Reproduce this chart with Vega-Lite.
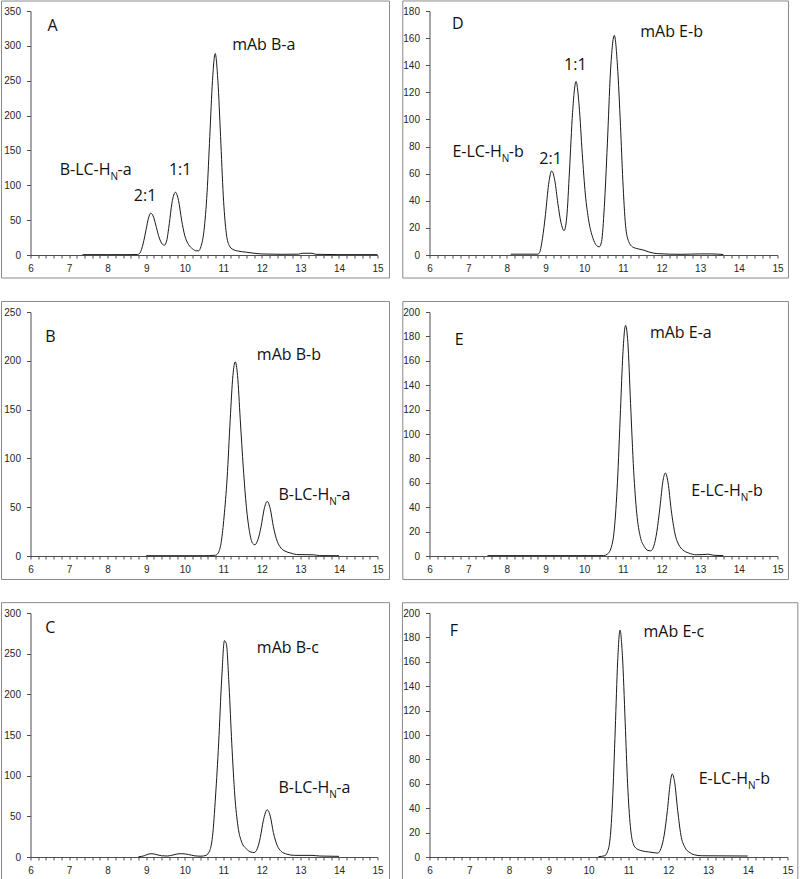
{
"$schema": "https://vega.github.io/schema/vega-lite/v6.json",
"padding": {"left": 0.5, "top": 0, "right": 0, "bottom": 0},
"columns": 2,
"align": "each",
"spacing": {"row": 21, "column": 11},
"config": {
  "view": {"stroke": null},
  "axis": {"grid": false, "domainColor": "#4d4d4d", "tickColor": "#4d4d4d", "labelColor": "#262626", "labelFont": "Liberation Sans", "labelFontSize": 10, "title": null, "labelOverlap": false},
  "axisX": {"tickSize": 3, "labelPadding": 5, "labelFlush": false, "labelOverlap": false},
  "axisY": {"tickSize": 4, "labelPadding": 6, "labelOverlap": false},
  "text": {"font": "Open Sans", "fontSize": 16, "fill": "#111111", "align": "left", "baseline": "alphabetic"}
},
"datasets": {
  "curves": [
    {"p":"A","t":7.35,"v":0.5},{"p":"A","t":8.0,"v":0.5},{"p":"A","t":8.5,"v":0.5},{"p":"A","t":8.78,"v":0.7},{"p":"A","t":8.84,"v":3},{"p":"A","t":8.92,"v":16},{"p":"A","t":9.0,"v":37},{"p":"A","t":9.06,"v":53},{"p":"A","t":9.12,"v":60},{"p":"A","t":9.18,"v":56},{"p":"A","t":9.25,"v":43},{"p":"A","t":9.32,"v":28},{"p":"A","t":9.4,"v":17},{"p":"A","t":9.47,"v":14},{"p":"A","t":9.53,"v":20},{"p":"A","t":9.6,"v":45},{"p":"A","t":9.67,"v":75},{"p":"A","t":9.76,"v":90},{"p":"A","t":9.84,"v":78},{"p":"A","t":9.92,"v":50},{"p":"A","t":10.0,"v":28},{"p":"A","t":10.1,"v":15},{"p":"A","t":10.2,"v":9},{"p":"A","t":10.3,"v":6},{"p":"A","t":10.36,"v":6},{"p":"A","t":10.42,"v":12},{"p":"A","t":10.5,"v":35},{"p":"A","t":10.58,"v":90},{"p":"A","t":10.65,"v":170},{"p":"A","t":10.72,"v":250},{"p":"A","t":10.79,"v":289},{"p":"A","t":10.86,"v":250},{"p":"A","t":10.93,"v":170},{"p":"A","t":11.0,"v":85},{"p":"A","t":11.07,"v":35},{"p":"A","t":11.15,"v":14},{"p":"A","t":11.25,"v":8},{"p":"A","t":11.4,"v":5.5},{"p":"A","t":11.6,"v":4},{"p":"A","t":11.8,"v":2.5},{"p":"A","t":12.0,"v":1.5},{"p":"A","t":12.5,"v":1},{"p":"A","t":12.95,"v":1.2},{"p":"A","t":13.05,"v":2.5},{"p":"A","t":13.3,"v":2.5},{"p":"A","t":13.4,"v":1},{"p":"A","t":14.0,"v":0.5},{"p":"A","t":15.0,"v":0.5},
    {"p":"D","t":8.1,"v":0.6},{"p":"D","t":8.8,"v":0.6},{"p":"D","t":8.85,"v":2},{"p":"D","t":8.92,"v":12},{"p":"D","t":9.0,"v":30},{"p":"D","t":9.08,"v":52},{"p":"D","t":9.16,"v":62},{"p":"D","t":9.24,"v":55},{"p":"D","t":9.32,"v":38},{"p":"D","t":9.4,"v":24},{"p":"D","t":9.48,"v":18},{"p":"D","t":9.55,"v":28},{"p":"D","t":9.62,"v":62},{"p":"D","t":9.7,"v":105},{"p":"D","t":9.79,"v":128},{"p":"D","t":9.87,"v":110},{"p":"D","t":9.95,"v":75},{"p":"D","t":10.03,"v":45},{"p":"D","t":10.12,"v":25},{"p":"D","t":10.22,"v":13},{"p":"D","t":10.32,"v":7},{"p":"D","t":10.39,"v":6},{"p":"D","t":10.45,"v":10},{"p":"D","t":10.52,"v":35},{"p":"D","t":10.6,"v":82},{"p":"D","t":10.68,"v":135},{"p":"D","t":10.78,"v":162},{"p":"D","t":10.86,"v":140},{"p":"D","t":10.94,"v":95},{"p":"D","t":11.0,"v":55},{"p":"D","t":11.07,"v":22},{"p":"D","t":11.15,"v":10},{"p":"D","t":11.25,"v":6},{"p":"D","t":11.4,"v":4.5},{"p":"D","t":11.55,"v":3.5},{"p":"D","t":11.7,"v":2},{"p":"D","t":11.9,"v":1},{"p":"D","t":12.5,"v":0.5},{"p":"D","t":13.0,"v":0.8},{"p":"D","t":13.3,"v":0.8},{"p":"D","t":13.6,"v":0.3},
    {"p":"B","t":9.0,"v":0.3},{"p":"B","t":10.5,"v":0.3},{"p":"B","t":10.8,"v":0.8},{"p":"B","t":10.88,"v":4},{"p":"B","t":10.95,"v":15},{"p":"B","t":11.02,"v":40},{"p":"B","t":11.1,"v":80},{"p":"B","t":11.18,"v":140},{"p":"B","t":11.25,"v":185},{"p":"B","t":11.31,"v":199},{"p":"B","t":11.37,"v":185},{"p":"B","t":11.44,"v":140},{"p":"B","t":11.52,"v":90},{"p":"B","t":11.6,"v":50},{"p":"B","t":11.68,"v":25},{"p":"B","t":11.76,"v":13},{"p":"B","t":11.82,"v":11.5},{"p":"B","t":11.9,"v":17},{"p":"B","t":11.98,"v":30},{"p":"B","t":12.06,"v":48},{"p":"B","t":12.14,"v":56},{"p":"B","t":12.22,"v":48},{"p":"B","t":12.3,"v":30},{"p":"B","t":12.4,"v":15},{"p":"B","t":12.5,"v":8},{"p":"B","t":12.6,"v":5},{"p":"B","t":12.75,"v":3},{"p":"B","t":12.9,"v":1.5},{"p":"B","t":13.35,"v":1.2},{"p":"B","t":13.5,"v":0.4},{"p":"B","t":14.0,"v":0.3},
    {"p":"E","t":7.5,"v":0.3},{"p":"E","t":10.5,"v":0.3},{"p":"E","t":10.6,"v":1.5},{"p":"E","t":10.7,"v":7},{"p":"E","t":10.78,"v":22},{"p":"E","t":10.86,"v":60},{"p":"E","t":10.94,"v":120},{"p":"E","t":11.0,"v":165},{"p":"E","t":11.07,"v":189},{"p":"E","t":11.13,"v":175},{"p":"E","t":11.2,"v":125},{"p":"E","t":11.28,"v":70},{"p":"E","t":11.36,"v":35},{"p":"E","t":11.45,"v":16},{"p":"E","t":11.55,"v":8},{"p":"E","t":11.65,"v":4.5},{"p":"E","t":11.72,"v":4.2},{"p":"E","t":11.8,"v":8},{"p":"E","t":11.88,"v":20},{"p":"E","t":11.96,"v":40},{"p":"E","t":12.04,"v":62},{"p":"E","t":12.1,"v":68},{"p":"E","t":12.17,"v":60},{"p":"E","t":12.25,"v":38},{"p":"E","t":12.35,"v":18},{"p":"E","t":12.45,"v":9},{"p":"E","t":12.55,"v":5},{"p":"E","t":12.7,"v":2.5},{"p":"E","t":12.9,"v":1},{"p":"E","t":13.1,"v":1.2},{"p":"E","t":13.2,"v":1.5},{"p":"E","t":13.35,"v":0.6},{"p":"E","t":13.6,"v":0.3},
    {"p":"C","t":8.8,"v":0.3},{"p":"C","t":8.95,"v":1.5},{"p":"C","t":9.05,"v":3.5},{"p":"C","t":9.15,"v":4},{"p":"C","t":9.25,"v":3.2},{"p":"C","t":9.4,"v":1.5},{"p":"C","t":9.55,"v":1.2},{"p":"C","t":9.7,"v":2.5},{"p":"C","t":9.85,"v":4},{"p":"C","t":9.95,"v":4},{"p":"C","t":10.1,"v":3},{"p":"C","t":10.25,"v":1.5},{"p":"C","t":10.42,"v":1},{"p":"C","t":10.55,"v":2},{"p":"C","t":10.65,"v":8},{"p":"C","t":10.72,"v":25},{"p":"C","t":10.8,"v":75},{"p":"C","t":10.88,"v":140},{"p":"C","t":10.96,"v":220},{"p":"C","t":11.03,"v":266},{"p":"C","t":11.08,"v":262},{"p":"C","t":11.15,"v":210},{"p":"C","t":11.22,"v":140},{"p":"C","t":11.3,"v":75},{"p":"C","t":11.38,"v":38},{"p":"C","t":11.48,"v":18},{"p":"C","t":11.6,"v":10},{"p":"C","t":11.72,"v":6},{"p":"C","t":11.8,"v":5.5},{"p":"C","t":11.88,"v":10},{"p":"C","t":11.96,"v":24},{"p":"C","t":12.04,"v":45},{"p":"C","t":12.14,"v":58},{"p":"C","t":12.22,"v":50},{"p":"C","t":12.3,"v":30},{"p":"C","t":12.4,"v":14},{"p":"C","t":12.5,"v":7},{"p":"C","t":12.65,"v":3.5},{"p":"C","t":12.85,"v":2},{"p":"C","t":13.3,"v":2},{"p":"C","t":13.5,"v":1.2},{"p":"C","t":14.0,"v":0.8},
    {"p":"F","t":10.25,"v":0.3},{"p":"F","t":10.4,"v":1},{"p":"F","t":10.47,"v":4},{"p":"F","t":10.54,"v":15},{"p":"F","t":10.6,"v":45},{"p":"F","t":10.67,"v":105},{"p":"F","t":10.73,"v":160},{"p":"F","t":10.79,"v":186},{"p":"F","t":10.85,"v":165},{"p":"F","t":10.92,"v":110},{"p":"F","t":10.98,"v":60},{"p":"F","t":11.05,"v":25},{"p":"F","t":11.12,"v":11},{"p":"F","t":11.2,"v":7},{"p":"F","t":11.35,"v":5},{"p":"F","t":11.5,"v":4.2},{"p":"F","t":11.65,"v":3.5},{"p":"F","t":11.74,"v":3.2},{"p":"F","t":11.82,"v":7},{"p":"F","t":11.9,"v":18},{"p":"F","t":11.98,"v":38},{"p":"F","t":12.05,"v":60},{"p":"F","t":12.1,"v":68},{"p":"F","t":12.16,"v":62},{"p":"F","t":12.24,"v":38},{"p":"F","t":12.32,"v":18},{"p":"F","t":12.42,"v":8},{"p":"F","t":12.55,"v":3.5},{"p":"F","t":12.7,"v":1.5},{"p":"F","t":12.85,"v":1},{"p":"F","t":14.0,"v":0.8}
  ],
  "labels": [
    {"p":"A","x":6.44,"y":321,"text":"A"},{"p":"A","x":11.23,"y":294,"text":"mAb B-a"},{"p":"A","x":8.68,"y":77.5,"text":"2:1"},{"p":"A","x":9.59,"y":114.8,"text":"1:1"},
    {"p":"D","x":6.58,"y":166.5,"text":"D"},{"p":"D","x":11.45,"y":160.8,"text":"mAb E-b"},{"p":"D","x":8.84,"y":66.9,"text":"2:1"},{"p":"D","x":9.48,"y":136.2,"text":"1:1"},
    {"p":"B","x":6.38,"y":219,"text":"B"},{"p":"B","x":11.87,"y":201,"text":"mAb B-b"},
    {"p":"E","x":6.65,"y":173.2,"text":"E"},{"p":"E","x":11.7,"y":178.7,"text":"mAb E-a"},
    {"p":"C","x":6.38,"y":275.8,"text":"C"},{"p":"C","x":11.87,"y":251,"text":"mAb B-c"},
    {"p":"F","x":6.51,"y":181.5,"text":"F"},{"p":"F","x":11.38,"y":180,"text":"mAb E-c"}
  ],
  "sublabels": [
    {"p":"A","x":8.075,"y":114.8,"pre":"B-LC-H","sub":"N","post":"-a"},
    {"p":"D","x":7.87,"y":72.3,"pre":"E-LC-H","sub":"N","post":"-b"},
    {"p":"B","x":13.75,"y":57.5,"pre":"B-LC-H","sub":"N","post":"-a"},
    {"p":"E","x":14.05,"y":49.5,"pre":"E-LC-H","sub":"N","post":"-b"},
    {"p":"C","x":13.75,"y":79,"pre":"B-LC-H","sub":"N","post":"-a"},
    {"p":"F","x":14.01,"y":60,"pre":"E-LC-H","sub":"N","post":"-b"}
  ]
},
"concat": [
  {"width": 347, "height": 244, "layer": [
    {"data": {"values": [{}]}, "mark": {"type": "rect", "fill": null, "stroke": "#8a8a8a", "strokeWidth": 1},
     "encoding": {"x": {"datum": 5.248, "type": "quantitative", "scale": {"domain": [6, 15], "nice": false}}, "x2": {"datum": 15.311}, "y": {"datum": 364.3, "type": "quantitative", "scale": {"domain": [0, 350], "nice": false}}, "y2": {"datum": -33}}},
    {"data": {"name": "curves"}, "transform": [{"filter": "datum.p === 'A'"}], "mark": {"type": "line", "interpolate": "monotone", "stroke": "#1a1a1a", "strokeWidth": 1},
     "encoding": {"x": {"field": "t", "type": "quantitative", "scale": {"domain": [6, 15], "nice": false}, "axis": {"title": null, "tickCount": 100, "labelOverlap": false, "labelFlush": false, "values": [6,6.2,6.4,6.6,6.8,7,7.2,7.4,7.6,7.8,8,8.2,8.4,8.6,8.8,9,9.2,9.4,9.6,9.8,10,10.2,10.4,10.6,10.8,11,11.2,11.4,11.6,11.8,12,12.2,12.4,12.6,12.8,13,13.2,13.4,13.6,13.8,14,14.2,14.4,14.6,14.8,15], "labelExpr": "datum.value % 1 == 0 ? format(datum.value, 'd') : ''"}},
                  "y": {"field": "v", "type": "quantitative", "scale": {"domain": [0, 350], "nice": false}, "axis": {"title": null, "tickCount": 100, "labelOverlap": false, "values": [0,50,100,150,200,250,300,350]}}}},
    {"data": {"name": "labels"}, "transform": [{"filter": "datum.p === 'A'"}], "mark": {"type": "text", "fill": "#111111"}, "encoding": {"x": {"field": "x", "type": "quantitative"}, "y": {"field": "y", "type": "quantitative"}, "text": {"field": "text"}}},
    {"data": {"name": "sublabels"}, "transform": [{"filter": "datum.p === 'A'"}], "mark": {"type": "text", "align": "right", "fill": "#111111"}, "encoding": {"x": {"field": "x", "type": "quantitative"}, "y": {"field": "y", "type": "quantitative"}, "text": {"field": "pre"}}},
    {"data": {"name": "sublabels"}, "transform": [{"filter": "datum.p === 'A'"}], "mark": {"type": "text", "fontSize": 10, "dy": 5, "fill": "#111111"}, "encoding": {"x": {"field": "x", "type": "quantitative"}, "y": {"field": "y", "type": "quantitative"}, "text": {"field": "sub"}}},
    {"data": {"name": "sublabels"}, "transform": [{"filter": "datum.p === 'A'"}], "mark": {"type": "text", "dx": 7, "fill": "#111111"}, "encoding": {"x": {"field": "x", "type": "quantitative"}, "y": {"field": "y", "type": "quantitative"}, "text": {"field": "post"}}}
  ]},
  {"width": 348, "height": 244, "layer": [
    {"data": {"values": [{}]}, "mark": {"type": "rect", "fill": null, "stroke": "#8a8a8a", "strokeWidth": 1},
     "encoding": {"x": {"datum": 5.31, "type": "quantitative", "scale": {"domain": [6, 15], "nice": false}}, "x2": {"datum": 15.284}, "y": {"datum": 187.4, "type": "quantitative", "scale": {"domain": [0, 180], "nice": false}}, "y2": {"datum": -17}}},
    {"data": {"name": "curves"}, "transform": [{"filter": "datum.p === 'D'"}], "mark": {"type": "line", "interpolate": "monotone", "stroke": "#1a1a1a", "strokeWidth": 1},
     "encoding": {"x": {"field": "t", "type": "quantitative", "scale": {"domain": [6, 15], "nice": false}, "axis": {"title": null, "tickCount": 100, "labelOverlap": false, "labelFlush": false, "values": [6,6.2,6.4,6.6,6.8,7,7.2,7.4,7.6,7.8,8,8.2,8.4,8.6,8.8,9,9.2,9.4,9.6,9.8,10,10.2,10.4,10.6,10.8,11,11.2,11.4,11.6,11.8,12,12.2,12.4,12.6,12.8,13,13.2,13.4,13.6,13.8,14,14.2,14.4,14.6,14.8,15], "labelExpr": "datum.value % 1 == 0 ? format(datum.value, 'd') : ''"}},
                  "y": {"field": "v", "type": "quantitative", "scale": {"domain": [0, 180], "nice": false}, "axis": {"title": null, "tickCount": 100, "labelOverlap": false, "values": [0,20,40,60,80,100,120,140,160,180]}}}},
    {"data": {"name": "labels"}, "transform": [{"filter": "datum.p === 'D'"}], "mark": {"type": "text", "fill": "#111111"}, "encoding": {"x": {"field": "x", "type": "quantitative"}, "y": {"field": "y", "type": "quantitative"}, "text": {"field": "text"}}},
    {"data": {"name": "sublabels"}, "transform": [{"filter": "datum.p === 'D'"}], "mark": {"type": "text", "align": "right", "fill": "#111111"}, "encoding": {"x": {"field": "x", "type": "quantitative"}, "y": {"field": "y", "type": "quantitative"}, "text": {"field": "pre"}}},
    {"data": {"name": "sublabels"}, "transform": [{"filter": "datum.p === 'D'"}], "mark": {"type": "text", "fontSize": 10, "dy": 5, "fill": "#111111"}, "encoding": {"x": {"field": "x", "type": "quantitative"}, "y": {"field": "y", "type": "quantitative"}, "text": {"field": "sub"}}},
    {"data": {"name": "sublabels"}, "transform": [{"filter": "datum.p === 'D'"}], "mark": {"type": "text", "dx": 7, "fill": "#111111"}, "encoding": {"x": {"field": "x", "type": "quantitative"}, "y": {"field": "y", "type": "quantitative"}, "text": {"field": "post"}}}
  ]},
  {"width": 347, "height": 244, "layer": [
    {"data": {"values": [{}]}, "mark": {"type": "rect", "fill": null, "stroke": "#8a8a8a", "strokeWidth": 1},
     "encoding": {"x": {"datum": 5.248, "type": "quantitative", "scale": {"domain": [6, 15], "nice": false}}, "x2": {"datum": 15.311}, "y": {"datum": 260.8, "type": "quantitative", "scale": {"domain": [0, 250], "nice": false}}, "y2": {"datum": -24.1}}},
    {"data": {"name": "curves"}, "transform": [{"filter": "datum.p === 'B'"}], "mark": {"type": "line", "interpolate": "monotone", "stroke": "#1a1a1a", "strokeWidth": 1},
     "encoding": {"x": {"field": "t", "type": "quantitative", "scale": {"domain": [6, 15], "nice": false}, "axis": {"title": null, "tickCount": 100, "labelOverlap": false, "labelFlush": false, "values": [6,6.2,6.4,6.6,6.8,7,7.2,7.4,7.6,7.8,8,8.2,8.4,8.6,8.8,9,9.2,9.4,9.6,9.8,10,10.2,10.4,10.6,10.8,11,11.2,11.4,11.6,11.8,12,12.2,12.4,12.6,12.8,13,13.2,13.4,13.6,13.8,14,14.2,14.4,14.6,14.8,15], "labelExpr": "datum.value % 1 == 0 ? format(datum.value, 'd') : ''"}},
                  "y": {"field": "v", "type": "quantitative", "scale": {"domain": [0, 250], "nice": false}, "axis": {"title": null, "tickCount": 100, "labelOverlap": false, "values": [0,50,100,150,200,250]}}}},
    {"data": {"name": "labels"}, "transform": [{"filter": "datum.p === 'B'"}], "mark": {"type": "text", "fill": "#111111"}, "encoding": {"x": {"field": "x", "type": "quantitative"}, "y": {"field": "y", "type": "quantitative"}, "text": {"field": "text"}}},
    {"data": {"name": "sublabels"}, "transform": [{"filter": "datum.p === 'B'"}], "mark": {"type": "text", "align": "right", "fill": "#111111"}, "encoding": {"x": {"field": "x", "type": "quantitative"}, "y": {"field": "y", "type": "quantitative"}, "text": {"field": "pre"}}},
    {"data": {"name": "sublabels"}, "transform": [{"filter": "datum.p === 'B'"}], "mark": {"type": "text", "fontSize": 10, "dy": 5, "fill": "#111111"}, "encoding": {"x": {"field": "x", "type": "quantitative"}, "y": {"field": "y", "type": "quantitative"}, "text": {"field": "sub"}}},
    {"data": {"name": "sublabels"}, "transform": [{"filter": "datum.p === 'B'"}], "mark": {"type": "text", "dx": 7, "fill": "#111111"}, "encoding": {"x": {"field": "x", "type": "quantitative"}, "y": {"field": "y", "type": "quantitative"}, "text": {"field": "post"}}}
  ]},
  {"width": 348, "height": 244, "layer": [
    {"data": {"values": [{}]}, "mark": {"type": "rect", "fill": null, "stroke": "#8a8a8a", "strokeWidth": 1},
     "encoding": {"x": {"datum": 5.31, "type": "quantitative", "scale": {"domain": [6, 15], "nice": false}}, "x2": {"datum": 15.284}, "y": {"datum": 208.6, "type": "quantitative", "scale": {"domain": [0, 200], "nice": false}}, "y2": {"datum": -19.3}}},
    {"data": {"name": "curves"}, "transform": [{"filter": "datum.p === 'E'"}], "mark": {"type": "line", "interpolate": "monotone", "stroke": "#1a1a1a", "strokeWidth": 1},
     "encoding": {"x": {"field": "t", "type": "quantitative", "scale": {"domain": [6, 15], "nice": false}, "axis": {"title": null, "tickCount": 100, "labelOverlap": false, "labelFlush": false, "values": [6,6.2,6.4,6.6,6.8,7,7.2,7.4,7.6,7.8,8,8.2,8.4,8.6,8.8,9,9.2,9.4,9.6,9.8,10,10.2,10.4,10.6,10.8,11,11.2,11.4,11.6,11.8,12,12.2,12.4,12.6,12.8,13,13.2,13.4,13.6,13.8,14,14.2,14.4,14.6,14.8,15], "labelExpr": "datum.value % 1 == 0 ? format(datum.value, 'd') : ''"}},
                  "y": {"field": "v", "type": "quantitative", "scale": {"domain": [0, 200], "nice": false}, "axis": {"title": null, "tickCount": 100, "labelOverlap": false, "values": [0,20,40,60,80,100,120,140,160,180,200]}}}},
    {"data": {"name": "labels"}, "transform": [{"filter": "datum.p === 'E'"}], "mark": {"type": "text", "fill": "#111111"}, "encoding": {"x": {"field": "x", "type": "quantitative"}, "y": {"field": "y", "type": "quantitative"}, "text": {"field": "text"}}},
    {"data": {"name": "sublabels"}, "transform": [{"filter": "datum.p === 'E'"}], "mark": {"type": "text", "align": "right", "fill": "#111111"}, "encoding": {"x": {"field": "x", "type": "quantitative"}, "y": {"field": "y", "type": "quantitative"}, "text": {"field": "pre"}}},
    {"data": {"name": "sublabels"}, "transform": [{"filter": "datum.p === 'E'"}], "mark": {"type": "text", "fontSize": 10, "dy": 5, "fill": "#111111"}, "encoding": {"x": {"field": "x", "type": "quantitative"}, "y": {"field": "y", "type": "quantitative"}, "text": {"field": "sub"}}},
    {"data": {"name": "sublabels"}, "transform": [{"filter": "datum.p === 'E'"}], "mark": {"type": "text", "dx": 7, "fill": "#111111"}, "encoding": {"x": {"field": "x", "type": "quantitative"}, "y": {"field": "y", "type": "quantitative"}, "text": {"field": "post"}}}
  ]},
  {"width": 347, "height": 244, "layer": [
    {"data": {"values": [{}]}, "mark": {"type": "rect", "fill": null, "stroke": "#8a8a8a", "strokeWidth": 1},
     "encoding": {"x": {"datum": 5.248, "type": "quantitative", "scale": {"domain": [6, 15], "nice": false}}, "x2": {"datum": 15.311}, "y": {"datum": 312.7, "type": "quantitative", "scale": {"domain": [0, 300], "nice": false}}, "y2": {"datum": -28.9}}},
    {"data": {"name": "curves"}, "transform": [{"filter": "datum.p === 'C'"}], "mark": {"type": "line", "interpolate": "monotone", "stroke": "#1a1a1a", "strokeWidth": 1},
     "encoding": {"x": {"field": "t", "type": "quantitative", "scale": {"domain": [6, 15], "nice": false}, "axis": {"title": null, "tickCount": 100, "labelOverlap": false, "labelFlush": false, "values": [6,6.2,6.4,6.6,6.8,7,7.2,7.4,7.6,7.8,8,8.2,8.4,8.6,8.8,9,9.2,9.4,9.6,9.8,10,10.2,10.4,10.6,10.8,11,11.2,11.4,11.6,11.8,12,12.2,12.4,12.6,12.8,13,13.2,13.4,13.6,13.8,14,14.2,14.4,14.6,14.8,15], "labelExpr": "datum.value % 1 == 0 ? format(datum.value, 'd') : ''"}},
                  "y": {"field": "v", "type": "quantitative", "scale": {"domain": [0, 300], "nice": false}, "axis": {"title": null, "tickCount": 100, "labelOverlap": false, "values": [0,50,100,150,200,250,300]}}}},
    {"data": {"name": "labels"}, "transform": [{"filter": "datum.p === 'C'"}], "mark": {"type": "text", "fill": "#111111"}, "encoding": {"x": {"field": "x", "type": "quantitative"}, "y": {"field": "y", "type": "quantitative"}, "text": {"field": "text"}}},
    {"data": {"name": "sublabels"}, "transform": [{"filter": "datum.p === 'C'"}], "mark": {"type": "text", "align": "right", "fill": "#111111"}, "encoding": {"x": {"field": "x", "type": "quantitative"}, "y": {"field": "y", "type": "quantitative"}, "text": {"field": "pre"}}},
    {"data": {"name": "sublabels"}, "transform": [{"filter": "datum.p === 'C'"}], "mark": {"type": "text", "fontSize": 10, "dy": 5, "fill": "#111111"}, "encoding": {"x": {"field": "x", "type": "quantitative"}, "y": {"field": "y", "type": "quantitative"}, "text": {"field": "sub"}}},
    {"data": {"name": "sublabels"}, "transform": [{"filter": "datum.p === 'C'"}], "mark": {"type": "text", "dx": 7, "fill": "#111111"}, "encoding": {"x": {"field": "x", "type": "quantitative"}, "y": {"field": "y", "type": "quantitative"}, "text": {"field": "post"}}}
  ]},
  {"width": 358, "height": 244, "layer": [
    {"data": {"values": [{}]}, "mark": {"type": "rect", "fill": null, "stroke": "#8a8a8a", "strokeWidth": 1},
     "encoding": {"x": {"datum": 5.32, "type": "quantitative", "scale": {"domain": [6, 15], "nice": false}}, "x2": {"datum": 15.26}, "y": {"datum": 208.4, "type": "quantitative", "scale": {"domain": [0, 200], "nice": false}}, "y2": {"datum": -19.3}}},
    {"data": {"name": "curves"}, "transform": [{"filter": "datum.p === 'F'"}], "mark": {"type": "line", "interpolate": "monotone", "stroke": "#1a1a1a", "strokeWidth": 1},
     "encoding": {"x": {"field": "t", "type": "quantitative", "scale": {"domain": [6, 15], "nice": false}, "axis": {"title": null, "tickCount": 100, "labelOverlap": false, "labelFlush": false, "values": [6,6.2,6.4,6.6,6.8,7,7.2,7.4,7.6,7.8,8,8.2,8.4,8.6,8.8,9,9.2,9.4,9.6,9.8,10,10.2,10.4,10.6,10.8,11,11.2,11.4,11.6,11.8,12,12.2,12.4,12.6,12.8,13,13.2,13.4,13.6,13.8,14,14.2,14.4,14.6,14.8,15], "labelExpr": "datum.value % 1 == 0 ? format(datum.value, 'd') : ''"}},
                  "y": {"field": "v", "type": "quantitative", "scale": {"domain": [0, 200], "nice": false}, "axis": {"title": null, "tickCount": 100, "labelOverlap": false, "values": [0,20,40,60,80,100,120,140,160,180,200]}}}},
    {"data": {"name": "labels"}, "transform": [{"filter": "datum.p === 'F'"}], "mark": {"type": "text", "fill": "#111111"}, "encoding": {"x": {"field": "x", "type": "quantitative"}, "y": {"field": "y", "type": "quantitative"}, "text": {"field": "text"}}},
    {"data": {"name": "sublabels"}, "transform": [{"filter": "datum.p === 'F'"}], "mark": {"type": "text", "align": "right", "fill": "#111111"}, "encoding": {"x": {"field": "x", "type": "quantitative"}, "y": {"field": "y", "type": "quantitative"}, "text": {"field": "pre"}}},
    {"data": {"name": "sublabels"}, "transform": [{"filter": "datum.p === 'F'"}], "mark": {"type": "text", "fontSize": 10, "dy": 5, "fill": "#111111"}, "encoding": {"x": {"field": "x", "type": "quantitative"}, "y": {"field": "y", "type": "quantitative"}, "text": {"field": "sub"}}},
    {"data": {"name": "sublabels"}, "transform": [{"filter": "datum.p === 'F'"}], "mark": {"type": "text", "dx": 7, "fill": "#111111"}, "encoding": {"x": {"field": "x", "type": "quantitative"}, "y": {"field": "y", "type": "quantitative"}, "text": {"field": "post"}}}
  ]}
]
}
